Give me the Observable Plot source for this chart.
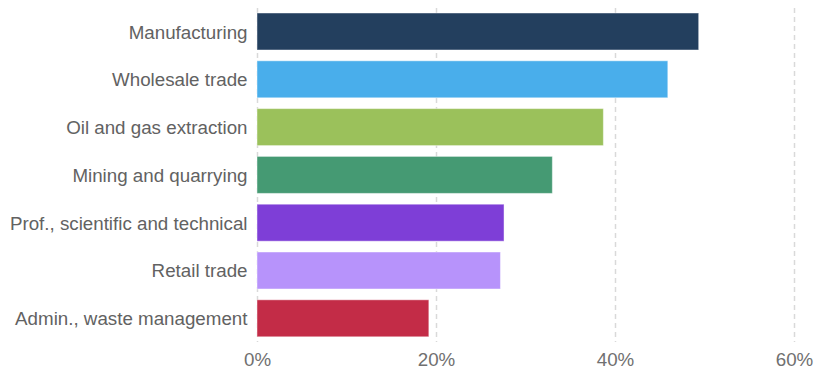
<!DOCTYPE html>
<html>
<head>
<meta charset="utf-8">
<script src="https://cdn.jsdelivr.net/npm/d3@7"></script>
<script src="https://cdn.jsdelivr.net/npm/@observablehq/plot@0.6"></script>
<style>
  html, body { margin: 0; padding: 0; background: #fff; }
  #chart svg { font-family: "Liberation Sans", Arial, sans-serif; }
</style>
</head>
<body>
<div id="chart"></div>
<script>
const industries = [
  "Manufacturing",
  "Wholesale trade",
  "Oil and gas extraction",
  "Mining and quarrying",
  "Prof., scientific and technical",
  "Retail trade",
  "Admin., waste management"
];
const shares = [49.35, 45.9, 38.7, 33.0, 27.6, 27.2, 19.2];
const colors = ["#233f5e", "#49aeeb", "#9bc15b", "#459a73", "#7e3ed7", "#b793fb", "#c32c47"];
const xTicks = [0, 20, 40, 60];

const data = industries.map((name, i) => ({name, value: shares[i]}));

const chart = Plot.plot({
  width: 814,
  height: 371,
  marginTop: 8,
  marginBottom: 29,
  marginLeft: 257,
  marginRight: 20,
  style: {fontSize: "18.75px", fontFamily: "'Liberation Sans', Arial, sans-serif", background: "#fff"},
  x: {domain: [0, 60], ticks: xTicks},
  y: {domain: industries, range: [2.2, 347.6], padding: 0.226, round: false},
  color: {domain: industries, range: colors},
  marks: [
    Plot.ruleX(xTicks, {stroke: "#d9d9d9", strokeWidth: 1.5, strokeDasharray: "5,4"}),
    Plot.barX(data, {x: "value", y: "name", fill: "name", stroke: "white", strokeOpacity: 0.45, strokeWidth: 1}),
    Plot.axisX({ticks: xTicks, tickFormat: d => d + "%", tickSize: 0, tickPadding: 10.5, fill: "#707070", label: null, fontSize: 18.75}),
    Plot.axisY({tickSize: 0, tickPadding: 10, fill: "#626262", label: null, fontSize: 18.75, dy: 0.5})
  ]
});
document.getElementById("chart").appendChild(chart);
</script>
</body>
</html>
